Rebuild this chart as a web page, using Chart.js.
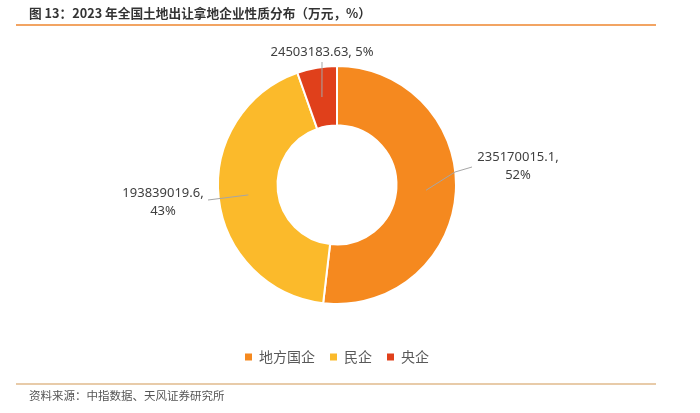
<!DOCTYPE html>
<html>
<head>
<meta charset="utf-8">
<script src="https://cdn.jsdelivr.net/npm/chart.js@4.4.0/dist/chart.umd.min.js"></script>
<style>
  html, body { margin: 0; padding: 0; background: #fff; }
  #chart { display: block; }
</style>
</head>
<body>
<canvas id="chart" width="700" height="413"></canvas>
<script>
const categories = ['地方国企', '民企', '央企'];
const values = [235170015.1, 193839019.6, 24503183.63];
const colors = ['#F5891F', '#FBBA2B', '#E0401B'];
const titleText = '图 13：2023 年全国土地出让拿地企业性质分布（万元，%）';
const sourceText = '资料来源：中指数据、天风证券研究所';

// label placement relative to the doughnut centre
const labelLayout = [
  { split: true, text: [181, -28], leader: [[118, -13], [135, -18]] },
  { split: true, text: [-174, 8], leader: [[-129, 15]] },
  { split: false, text: [-15, -133], leader: [[-15, -123]] }
];

const total = values.reduce((a, b) => a + b, 0);

const framePlugin = {
  id: 'frame',
  beforeDraw(chart) {
    const ctx = chart.ctx;
    ctx.save();
    ctx.fillStyle = '#fff';
    ctx.fillRect(0, 0, chart.width, chart.height);
    ctx.restore();
  },
  afterDraw(chart) {
    const ctx = chart.ctx;
    ctx.save();
    ctx.fillStyle = '#333';
    ctx.font = 'bold 12.7px "Noto Sans CJK SC"';
    ctx.textBaseline = 'middle';
    ctx.textAlign = 'left';
    ctx.fillText(titleText, 29, 13);

    ctx.strokeStyle = '#F2A463';
    ctx.lineWidth = 2;
    ctx.beginPath();
    ctx.moveTo(16, 25);
    ctx.lineTo(656, 25);
    ctx.stroke();

    ctx.strokeStyle = '#E8CBA9';
    ctx.beginPath();
    ctx.moveTo(16, 384);
    ctx.lineTo(656, 384);
    ctx.stroke();

    ctx.fillStyle = '#555';
    ctx.font = '11.5px "Noto Sans CJK SC"';
    ctx.fillText(sourceText, 29, 396);
    ctx.restore();
  }
};

const labelPlugin = {
  id: 'sliceLabels',
  afterDatasetsDraw(chart) {
    const ctx = chart.ctx;
    const meta = chart.getDatasetMeta(0);
    ctx.save();
    meta.data.forEach((arc, i) => {
      const p = arc.getProps(['x', 'y', 'startAngle', 'endAngle', 'innerRadius', 'outerRadius'], true);
      const mid = (p.startAngle + p.endAngle) / 2;
      const r = (p.innerRadius + p.outerRadius) / 2;
      const lay = labelLayout[i];
      ctx.strokeStyle = '#A6A6A6';
      ctx.lineWidth = 1;
      ctx.beginPath();
      ctx.moveTo(p.x + Math.cos(mid) * r, p.y + Math.sin(mid) * r);
      lay.leader.forEach(pt => ctx.lineTo(p.x + pt[0], p.y + pt[1]));
      ctx.stroke();

      const pct = Math.round(values[i] / total * 100) + '%';
      ctx.fillStyle = '#404040';
      ctx.font = '13px "Noto Sans"';
      ctx.textAlign = 'center';
      ctx.textBaseline = 'middle';
      const tx = p.x + lay.text[0], ty = p.y + lay.text[1];
      if (lay.split) {
        ctx.fillText(values[i] + ',', tx, ty);
        ctx.fillText(pct, tx, ty + 18);
      } else {
        ctx.fillText(values[i] + ', ' + pct, tx, ty);
      }
    });
    ctx.restore();
  }
};

new Chart(document.getElementById('chart'), {
  type: 'doughnut',
  data: {
    labels: categories,
    datasets: [{
      data: values,
      backgroundColor: colors,
      borderColor: '#fff',
      borderWidth: 2,
      hoverOffset: 0
    }]
  },
  options: {
    responsive: false,
    devicePixelRatio: 1,
    animation: false,
    events: [],
    cutout: '50%',
    layout: { padding: { top: 35, bottom: 39, left: 217, right: 243 } },
    plugins: {
      tooltip: { enabled: false },
      legend: {
        position: 'bottom',
        labels: {
          boxWidth: 7,
          boxHeight: 7,
          padding: 15,
          color: '#595959',
          font: { size: 14, family: '"Noto Sans CJK SC"' },
          generateLabels(chart) {
            const items = Chart.overrides.doughnut.plugins.legend.labels.generateLabels(chart);
            items.forEach(it => { it.lineWidth = 0; it.strokeStyle = it.fillStyle; });
            return items;
          }
        }
      }
    }
  },
  plugins: [framePlugin, labelPlugin]
});
</script>
</body>
</html>
